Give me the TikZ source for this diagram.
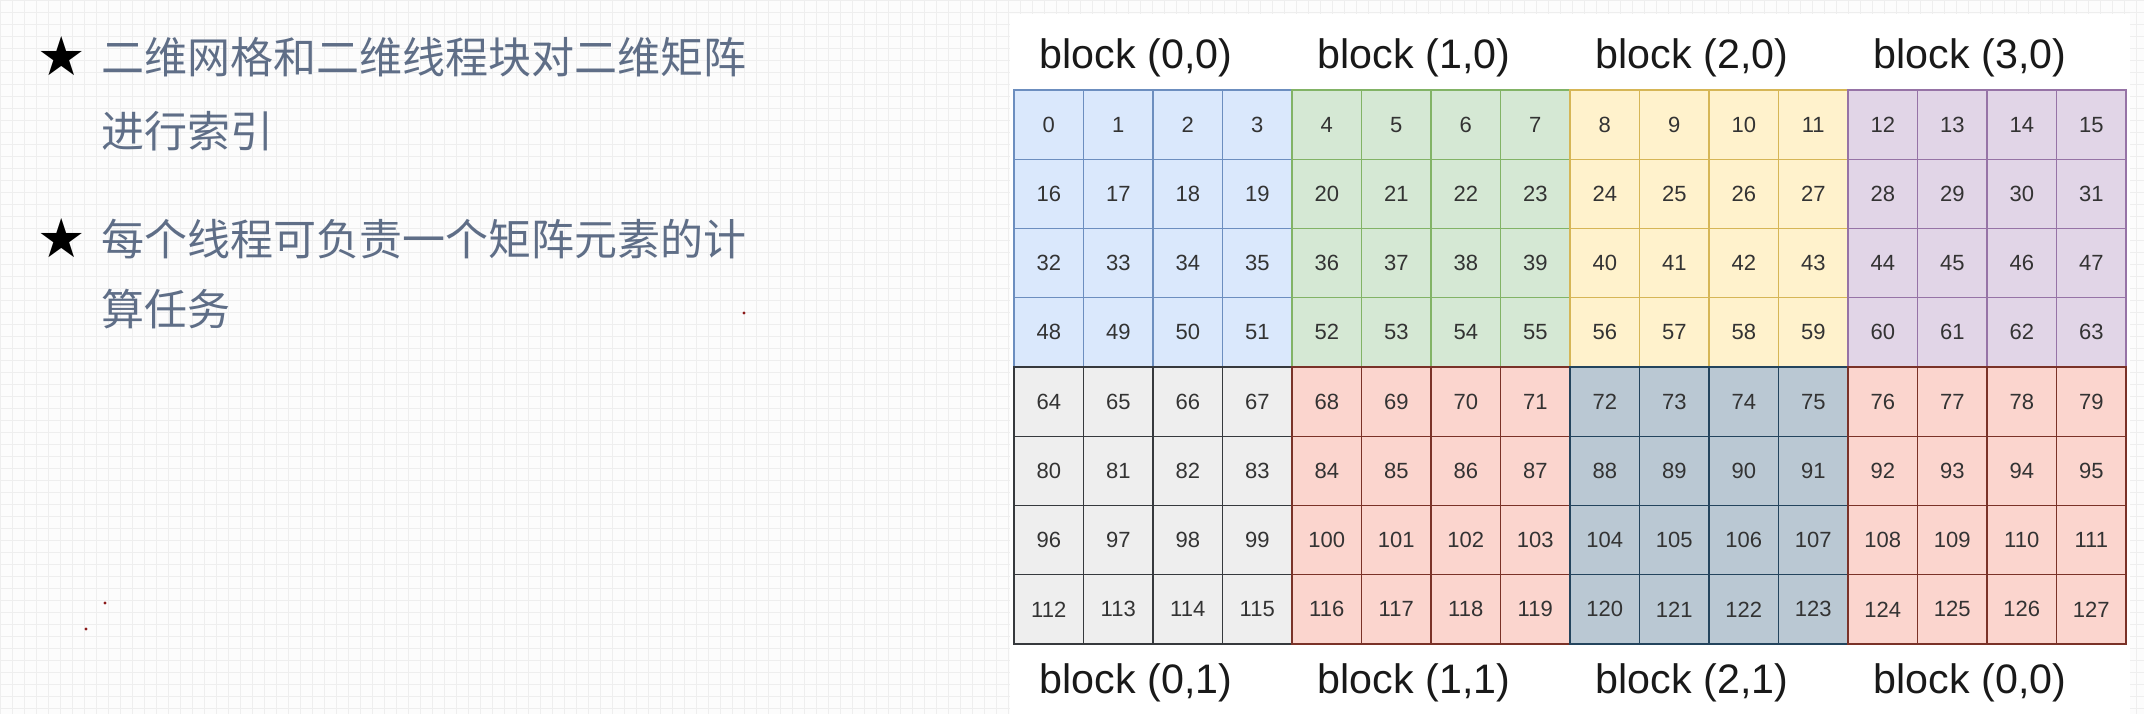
\documentclass[tikz,border=0pt]{standalone}
\usepackage{fontspec}
\setmainfont{Liberation Sans}
\newfontfamily\cjkfont{Noto Sans CJK SC}
\newfontfamily\symfont{DejaVu Sans}
\usetikzlibrary{positioning}
\definecolor{bkblue}{HTML}{DAE8FC}   \definecolor{lnblue}{HTML}{6C8EBF}
\definecolor{bkgreen}{HTML}{D5E8D4}  \definecolor{lngreen}{HTML}{82B366}
\definecolor{bkyellow}{HTML}{FFF2CC} \definecolor{lnyellow}{HTML}{D6B656}
\definecolor{bkpurple}{HTML}{E1D5E7} \definecolor{lnpurple}{HTML}{9673A6}
\definecolor{bkgray}{HTML}{EEEEEE}   \definecolor{lngray}{HTML}{36393D}
\definecolor{bkred}{HTML}{FBD5CE}    \definecolor{lnred}{HTML}{7A3228}
\definecolor{bkslate}{HTML}{BAC8D3}  \definecolor{lnslate}{HTML}{23445D}
\definecolor{textgray}{RGB}{95,110,135}
\definecolor{paper}{HTML}{FCFCFC}
\definecolor{gridgray}{HTML}{EEEEEE}
\definecolor{dotred}{HTML}{8B1A1A}
% colour of block number #1 (row-major, 4 blocks per row)
\newcommand{\blockcolor}[1]{\ifcase#1 blue\or green\or yellow\or purple\or gray\or red\or slate\or red\fi}
\tikzset{%
  cell/.style={draw,rectangle,inner sep=0pt,outer sep=0pt,
    minimum width=34.75pt,minimum height=34.625pt,line width=0.7pt,
    text=black!80,font=\fontsize{11}{11}\selectfont},
  blocklabel/.style={font=\fontsize{20.6}{20.6}\selectfont,text=black!90},
  point/.style={anchor=west,text=textgray,font=\cjkfont\fontsize{21.5}{21.5}\selectfont},
  bullet/.style={font=\symfont\fontsize{27}{27}\selectfont},
  gridline/.style={draw=gridgray,line width=0.3pt},
}
\begin{document}
\begin{tikzpicture}[x=0.5pt,y=-0.5pt]
  \useasboundingbox (0,0) rectangle (2144,714);
  % paper with faint grid
  \fill[paper] (0,0) rectangle (2144,714);
  \foreach \gx in {0,12,...,2144} \draw[gridline] (\gx,0) -- (\gx,714);
  \foreach \gy in {0,12,...,714} \draw[gridline] (0,\gy) -- (2144,\gy);
  \fill[white] (1010,14) rectangle (2130,714);
  % bullet points
  \node[bullet] (star1) at (62,56) {★};
  \node[point] (p1a) at (94,57) {二维网格和二维线程块对二维矩阵};
  \node[point] (p1b) at (94,131) {进行索引};
  \node[bullet] (star2) at (62,238) {★};
  \node[point] (p2a) at (94,239) {每个线程可负责一个矩阵元素的计};
  \node[point] (p2b) at (94,309) {算任务};
  \fill[dotred] (744,313) circle (1.6) (105,603) circle (1.6) (86,629) circle (1.6);
  % 8x16 matrix, one node per element
  \foreach \r in {0,...,7} {
    \foreach \c in {0,...,15} {
      \pgfmathtruncatemacro\n{16*\r+\c}
      \pgfmathtruncatemacro\b{4*int(\r/4)+int(\c/4)}
      \edef\bc{\blockcolor{\b}}
      \node[cell,fill=bk\bc,draw=ln\bc] (c\n) at ({1014+69.5*(\c+0.5)},{90+69.25*(\r+0.5)}) {\n};
    }
  }
  % block names above and below
  \foreach \i/\t in {0/{(0,0)},1/{(1,0)},2/{(2,0)},3/{(3,0)}}
    \node[blocklabel] (top\i) at ({1136+278*\i},58) {block \t};
  \foreach \i/\t in {0/{(0,1)},1/{(1,1)},2/{(2,1)},3/{(0,0)}}
    \node[blocklabel] (bot\i) at ({1136+278*\i},683) {block \t};
\end{tikzpicture}
\end{document}
